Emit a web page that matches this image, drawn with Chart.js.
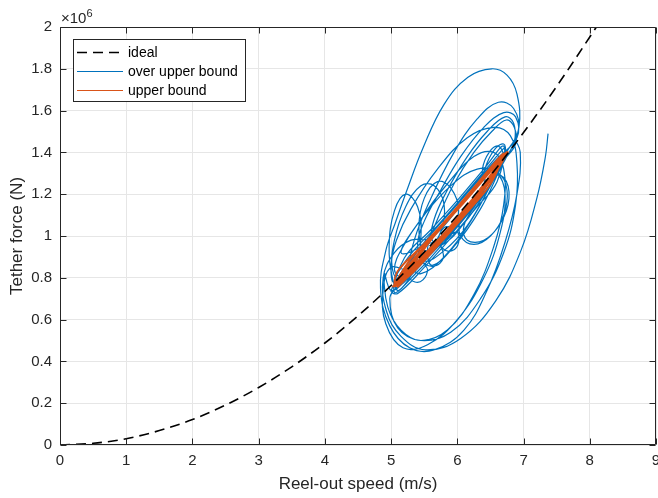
<!DOCTYPE html>
<html lang="en">
<head>
<meta charset="UTF-8">
<title>Tether force vs reel-out speed</title>
<script src="https://cdn.jsdelivr.net/npm/chart.js"></script>
<style>
  html, body { margin: 0; padding: 0; background: #fff; }
  #wrap { width: 658px; height: 498px; }
</style>
</head>
<body>
<div id="wrap"><canvas id="forceChart" width="658" height="498"></canvas></div>
<script>
// tick labels (force axis is in units of 10^6 N)
const xTickLabels = ['0', '1', '2', '3', '4', '5', '6', '7', '8', '9'];
const yTickLabels = ['0', '0.2', '0.4', '0.6', '0.8', '1', '1.2', '1.4', '1.6', '1.8', '2'];

// ideal curve: [speed m/s, force x1e6 N]
const ideal = [
  [0, 0], [0.5, 0.008], [1, 0.030], [1.5, 0.069], [2, 0.122], [2.5, 0.191],
  [3, 0.275], [3.5, 0.374], [4, 0.488], [4.5, 0.618], [5, 0.763], [5.5, 0.923],
  [6, 1.098], [6.5, 1.289], [7, 1.495], [7.5, 1.716], [8, 1.952], [8.1, 2.0]
];

// over upper bound trajectory
const overUpperBound = [
  [5.05, 0.80], [5.30, 0.915], [5.70, 1.05], [6.10, 1.195], [6.50, 1.345], [6.72, 1.42],
  [6.55, 1.27], [6.20, 1.12], [5.80, 0.97], [5.40, 0.83], [5.05, 0.73],
  [5.20, 0.895], [5.60, 1.03], [6.00, 1.17], [6.40, 1.32], [6.70, 1.43],
  [6.60, 1.26], [6.30, 1.14], [5.90, 0.99], [5.50, 0.85], [5.10, 0.725],
  [5.00, 0.74], [5.40, 0.93], [6.00, 1.15], [6.50, 1.33], [6.78, 1.42],
  [6.93, 1.52], [6.90, 1.68], [6.75, 1.77], [6.52, 1.80], [6.16, 1.76], [5.80, 1.63], [5.48, 1.42],
  [5.24, 1.22], [5.06, 1.06], [4.92, 0.93], [4.84, 0.75], [4.98, 0.57], [5.28, 0.465], [5.65, 0.455],
  [6.10, 0.55], [6.45, 0.74], [6.72, 0.97], [6.90, 1.20], [6.95, 1.40], [6.85, 1.45],
  [6.50, 1.25], [6.00, 1.05], [5.50, 0.88], [5.10, 0.76],
  [4.98, 0.70], [5.10, 0.56], [5.45, 0.50], [5.90, 0.54], [6.35, 0.70], [6.70, 0.92], [6.88, 1.15],
  [6.90, 1.35], [6.80, 1.48], [6.55, 1.52], [6.15, 1.47], [5.70, 1.32], [5.30, 1.13], [5.08, 0.98],
  [5.00, 0.86], [5.05, 0.78],
  [5.50, 0.97], [6.10, 1.19], [6.60, 1.37],
  [6.90, 1.47], [6.88, 1.57], [6.70, 1.59], [6.40, 1.52], [6.05, 1.38], [5.75, 1.22], [5.50, 1.07],
  [5.40, 0.96], [5.50, 0.88], [5.80, 0.93], [6.15, 1.05], [6.50, 1.24], [6.72, 1.37],
  [6.86, 1.45], [6.85, 1.54], [6.72, 1.57], [6.45, 1.50], [6.15, 1.38], [5.85, 1.22], [5.65, 1.08],
  [5.62, 0.98], [5.78, 0.96], [6.10, 1.06], [6.45, 1.22], [6.70, 1.36],
  [6.88, 1.44], [6.86, 1.52], [6.74, 1.555], [6.52, 1.50], [6.25, 1.40], [5.95, 1.25], [5.70, 1.08],
  [5.55, 0.94], [5.62, 0.86], [5.95, 0.95], [6.35, 1.13], [6.66, 1.33],
  [6.92, 1.50], [6.85, 1.61], [6.62, 1.64], [6.30, 1.56], [5.95, 1.40], [5.60, 1.18], [5.35, 0.98],
  [5.30, 0.86], [5.45, 0.82], [5.80, 0.90], [6.20, 1.07], [6.55, 1.27], [6.74, 1.38],
  [6.30, 1.19], [5.80, 1.00], [5.30, 0.84],
  [5.00, 0.85], [4.88, 0.74], [4.92, 0.58], [5.18, 0.465], [5.55, 0.48], [6.00, 0.60], [6.40, 0.80],
  [6.65, 1.02], [6.72, 1.20], [6.60, 1.30], [6.30, 1.32], [5.90, 1.24], [5.50, 1.10], [5.20, 0.96],
  [5.05, 0.84],
  [5.20, 0.80], [5.50, 0.90], [5.75, 1.02], [5.80, 1.15], [5.65, 1.24], [5.45, 1.24], [5.22, 1.14],
  [5.05, 0.98], [5.02, 0.84], [5.15, 0.78],
  [5.35, 0.85], [5.45, 1.00], [5.40, 1.14], [5.22, 1.20], [5.05, 1.12], [4.97, 0.95], [5.02, 0.80],
  [5.12, 0.74],
  [5.50, 0.90], [5.90, 1.00], [6.02, 1.12], [5.90, 1.23], [5.70, 1.26], [5.50, 1.18], [5.42, 1.04],
  [5.50, 0.93],
  [5.70, 0.96], [5.79, 0.91], [5.74, 0.87], [5.62, 0.855], [5.50, 0.87], [5.45, 0.91], [5.50, 0.95],
  [5.62, 0.965],
  [5.48, 0.88], [5.55, 0.84], [5.48, 0.79], [5.36, 0.78], [5.26, 0.81], [5.28, 0.87], [5.38, 0.89],
  [5.98, 1.02], [6.02, 0.97], [5.92, 0.93], [5.78, 0.94], [5.72, 0.99], [5.80, 1.04], [5.92, 1.05],
  [6.20, 1.16], [6.50, 1.27],
  [6.62, 1.30], [6.75, 1.22], [6.70, 1.10], [6.50, 1.00], [6.25, 0.96], [6.05, 1.00], [6.05, 1.08],
  [6.25, 1.18],
  [6.50, 1.28], [6.70, 1.28], [6.78, 1.18], [6.65, 1.06], [6.40, 0.98], [6.15, 0.98], [6.10, 1.05],
  [6.30, 1.16], [6.55, 1.30],
  [6.72, 1.40], [6.70, 1.44], [6.58, 1.42], [6.45, 1.35], [6.40, 1.28], [6.50, 1.26], [6.65, 1.32],
  [6.70, 1.38], [6.62, 1.43], [6.48, 1.40], [6.38, 1.32], [6.42, 1.26], [6.58, 1.30], [6.68, 1.36],
  [6.20, 1.13], [5.70, 0.95], [5.20, 0.78], [5.00, 0.74],
  [4.90, 0.82], [4.95, 0.66], [5.15, 0.55], [5.45, 0.50], [5.85, 0.55], [6.25, 0.72], [6.55, 0.95],
  [6.70, 1.15], [6.70, 1.32], [6.55, 1.40], [6.25, 1.38], [5.85, 1.25], [5.45, 1.08], [5.15, 0.92],
  [5.50, 0.96], [6.00, 1.13], [5.60, 0.99],
  [5.30, 0.98], [5.05, 0.92], [4.88, 0.80], [4.93, 0.64], [5.15, 0.52], [5.52, 0.455], [6.05, 0.51],
  [6.58, 0.69], [6.96, 0.93], [7.20, 1.18], [7.33, 1.38], [7.37, 1.49]
];

// upper bound trajectory
const upperBound = [
  [5.02, 0.755], [5.30, 0.875], [5.80, 1.055], [6.30, 1.240], [6.74, 1.395],
  [6.50, 1.265], [6.00, 1.070], [5.50, 0.895], [5.08, 0.770],
  [5.40, 0.910], [5.90, 1.090], [6.40, 1.275], [6.70, 1.385],
  [6.30, 1.205], [5.70, 0.975], [5.20, 0.810], [5.05, 0.765],
  [5.50, 0.950], [6.10, 1.160], [6.60, 1.345], [6.76, 1.400],
  [6.20, 1.150], [5.60, 0.935], [5.12, 0.780],
  [5.60, 0.990], [6.20, 1.210], [6.68, 1.380],
  [6.40, 1.225], [5.90, 1.030], [5.35, 0.845], [5.04, 0.760],
  [5.35, 0.885], [5.95, 1.110], [6.55, 1.330], [6.72, 1.390],
  [6.10, 1.120], [5.45, 0.895], [5.06, 0.770],
  [5.10, 0.833], [5.50, 0.963], [5.90, 1.102], [6.30, 1.251], [6.70, 1.395],
  [6.50, 1.249], [6.10, 1.095], [5.70, 0.951], [5.30, 0.817], [5.05, 0.760],
  [5.30, 0.892], [5.70, 1.026], [6.10, 1.170], [6.50, 1.320], [6.75, 1.400],
  [6.30, 1.176], [5.90, 1.027], [5.50, 0.888], [5.10, 0.758],
  [5.70, 1.020], [6.30, 1.245], [6.74, 1.395],
  [6.00, 1.085], [5.40, 0.875], [5.03, 0.760]
];

const toPoints = arr => arr.map(p => ({ x: p[0], y: p[1] }));
const FONT = 'Liberation Sans, Arial, Helvetica, sans-serif';
const AXIS_COLOR = '#262626';

// MATLAB style box with inward ticks, x10^6 exponent and legend
const matlabFrame = {
  id: 'matlabFrame',
  afterDraw(chart) {
    const ctx = chart.ctx;
    const a = chart.chartArea;
    const xs = chart.scales.x, ys = chart.scales.y;
    const L = Math.round(a.left) + 0.5, R = Math.round(a.right) - 0.5;
    const T = Math.round(a.top) + 0.5, B = Math.round(a.bottom) - 0.5;
    ctx.save();
    ctx.strokeStyle = AXIS_COLOR;
    ctx.lineWidth = 1;
    ctx.beginPath();
    ctx.rect(L, T, R - L, B - T);
    xs.ticks.forEach(t => {
      const px = Math.round(xs.getPixelForValue(t.value)) + 0.5;
      ctx.moveTo(px, B); ctx.lineTo(px, B - 6);
      ctx.moveTo(px, T); ctx.lineTo(px, T + 6);
    });
    ys.ticks.forEach(t => {
      const py = Math.round(ys.getPixelForValue(t.value)) + 0.5;
      ctx.moveTo(L, py); ctx.lineTo(L + 6, py);
      ctx.moveTo(R, py); ctx.lineTo(R - 6, py);
    });
    ctx.stroke();

    // exponent label
    ctx.fillStyle = AXIS_COLOR;
    ctx.textBaseline = 'alphabetic';
    ctx.textAlign = 'left';
    ctx.font = '15px ' + FONT;
    const base = '\u00d710';
    ctx.fillText(base, a.left + 1, a.top - 4);
    const w = ctx.measureText(base).width;
    ctx.font = '11px ' + FONT;
    ctx.fillText('6', a.left + 1 + w, a.top - 10);

    // legend
    const bx = a.left + 13, by = a.top + 12, bw = 172, bh = 62;
    ctx.fillStyle = '#fff';
    ctx.fillRect(bx, by, bw, bh);
    ctx.strokeStyle = AXIS_COLOR;
    ctx.strokeRect(bx + 0.5, by + 0.5, bw, bh);
    ctx.font = '14px ' + FONT;
    ctx.textBaseline = 'middle';
    chart.data.datasets.forEach((ds, i) => {
      const y = by + 13 + i * 19;
      ctx.save();
      ctx.strokeStyle = ds.borderColor;
      ctx.lineWidth = ds.legendWidth;
      ctx.setLineDash(ds.borderDash || []);
      ctx.beginPath();
      ctx.moveTo(bx + 4, y + 0.5);
      ctx.lineTo(bx + 50, y + 0.5);
      ctx.stroke();
      ctx.restore();
      ctx.fillStyle = '#000';
      ctx.fillText(ds.label, bx + 55, y + 1);
    });
    ctx.restore();
  }
};

new Chart(document.getElementById('forceChart'), {
  type: 'scatter',
  data: {
    datasets: [
      {
        label: 'ideal',
        data: toPoints(ideal),
        showLine: true,
        borderColor: '#000000',
        borderWidth: 1.6,
        legendWidth: 1.6,
        borderDash: [10, 6],
        pointRadius: 0,
        cubicInterpolationMode: 'monotone',
        order: 0
      },
      {
        label: 'over upper bound',
        data: toPoints(overUpperBound),
        showLine: true,
        borderColor: '#0072BD',
        borderWidth: 1.2,
        legendWidth: 1,
        pointRadius: 0,
        tension: 0.4,
        order: 2
      },
      {
        label: 'upper bound',
        data: toPoints(upperBound),
        showLine: true,
        borderColor: '#D95319',
        borderWidth: 1.8,
        legendWidth: 1,
        pointRadius: 0,
        tension: 0.3,
        order: 1
      }
    ]
  },
  options: {
    responsive: false,
    animation: false,
    devicePixelRatio: 1,
    layout: { padding: { top: 27, right: 2, bottom: 0, left: 0 } },
    plugins: {
      legend: { display: false },
      tooltip: { enabled: false }
    },
    scales: {
      x: {
        type: 'linear',
        min: 0,
        max: 9,
        border: { display: false },
        grid: { color: '#e6e6e6', drawTicks: false },
        ticks: {
          stepSize: 1,
          padding: 7,
          maxRotation: 0,
          autoSkip: false,
          color: AXIS_COLOR,
          font: { family: FONT, size: 15 },
          callback: (v, i) => xTickLabels[i]
        },
        title: {
          display: true,
          text: 'Reel-out speed (m/s)',
          color: AXIS_COLOR,
          font: { family: FONT, size: 17 },
          padding: { top: 0, bottom: 3 }
        },
        afterFit: s => { s.height = 53; s.paddingLeft = 0; s.paddingRight = 0; }
      },
      y: {
        type: 'linear',
        min: 0,
        max: 2,
        border: { display: false },
        grid: { color: '#e6e6e6', drawTicks: false },
        ticks: {
          stepSize: 0.2,
          padding: 8,
          color: AXIS_COLOR,
          font: { family: FONT, size: 15 },
          callback: (v, i) => yTickLabels[i]
        },
        title: {
          display: true,
          text: 'Tether force (N)',
          color: AXIS_COLOR,
          font: { family: FONT, size: 17 },
          padding: { top: 7, bottom: 0 }
        },
        afterFit: s => { s.width = 60; }
      }
    }
  },
  plugins: [matlabFrame]
});
</script>
</body>
</html>
